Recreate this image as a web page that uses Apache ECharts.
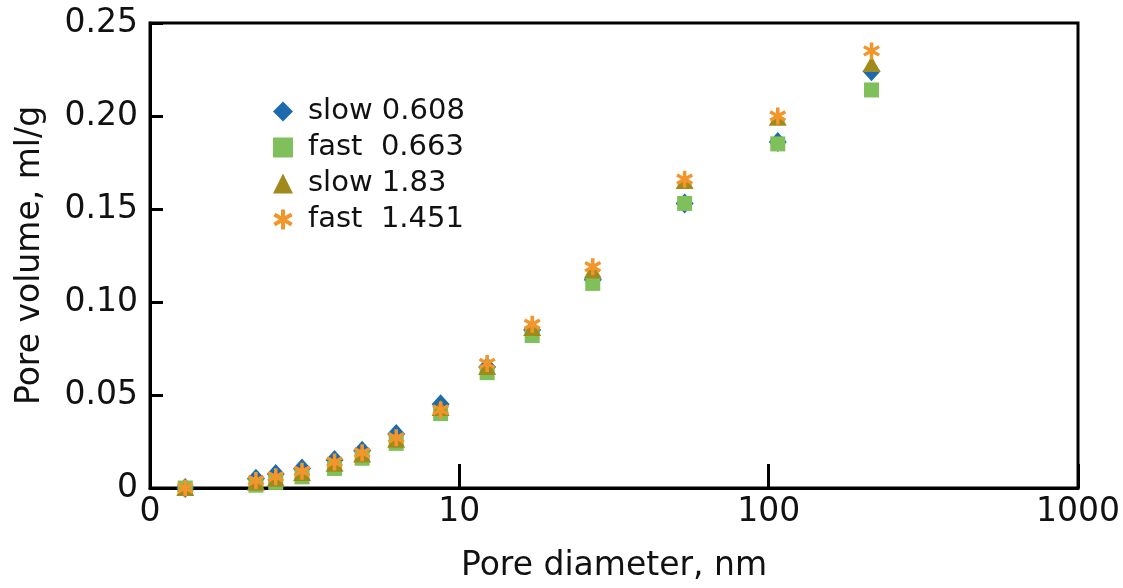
<!DOCTYPE html>
<html>
<head>
<meta charset="utf-8">
<script src="https://cdn.jsdelivr.net/npm/echarts@6/dist/echarts.min.js"></script>
<style>
html,body{margin:0;padding:0;background:#fff;}
#chart{width:1123px;height:588px;}
</style>
</head>
<body>
<div id="chart"></div>
<script>
// Pore diameter, nm (x values)
const diameters = [1.3, 2.2, 2.55, 3.1, 3.95, 4.85, 6.25, 8.7, 12.3, 17.2, 27, 53.5, 107, 215];
// Pore volume, ml/g
const slow0608 = [0, 0.005, 0.0075, 0.0105, 0.015, 0.020, 0.029, 0.045, 0.065, 0.085, 0.112, 0.153, 0.186, 0.224];
const fast0663 = [0, 0.0015, 0.003, 0.006, 0.0105, 0.016, 0.024, 0.040, 0.062, 0.082, 0.110, 0.153, 0.185, 0.214];
const slow183  = [0, 0.003, 0.005, 0.008, 0.013, 0.018, 0.026, 0.043, 0.065, 0.086, 0.117, 0.165, 0.199, 0.228];
const fast1451 = [0, 0.004, 0.006, 0.009, 0.014, 0.019, 0.027, 0.042, 0.067, 0.088, 0.119, 0.166, 0.200, 0.235];
const seriesNames = ['slow 0.608', 'fast  0.663', 'slow 1.83', 'fast  1.451'];
const yTicks = [0, 0.05, 0.10, 0.15, 0.20, 0.25];
const xTickLabels = {1: '0', 10: '10', 100: '100', 1000: '1000'};

const starPath = 'path://M8 0L12 0L12 20L8 20Z M17.66 3.268L19.66 6.732L2.34 16.732L0.34 13.268Z M19.66 13.268L17.66 16.732L0.34 6.732L2.34 3.268Z';

function pairs(ys){ return diameters.map((d,i)=>[d, ys[i]]); }

const chart = echarts.init(document.getElementById('chart'));
const font = 'DejaVu Sans';
chart.setOption({
  backgroundColor: '#fff',
  animation: false,
  grid: {left:150, right:43, top:23, bottom:97, show:true, borderColor:'#000', borderWidth:3, backgroundColor:'transparent'},
  legend: {
    orient:'vertical', left:268, top:92, itemGap:7, itemWidth:20, itemHeight:20,
    textStyle:{fontFamily:font, fontSize:29, color:'#111', padding:[0,0,0,10]},
    data: seriesNames.map(n=>({name:n}))
  },
  xAxis: {
    type:'log', logBase:10, min:1, max:1000,
    name:'Pore diameter, nm', nameLocation:'middle', nameGap:62,
    nameTextStyle:{fontFamily:font, fontSize:33, color:'#111'},
    axisLine:{show:true, lineStyle:{color:'#000', width:3}},
    axisTick:{show:true, inside:true, length:24, lineStyle:{color:'#000', width:3}},
    minorTick:{show:false},
    splitLine:{show:false},
    axisLabel:{fontFamily:font, fontSize:33, color:'#111', margin:8,
      formatter: v => xTickLabels[Math.round(v)] !== undefined ? xTickLabels[Math.round(v)] : ''}
  },
  yAxis: {
    type:'value', min:0, max:0.25, interval:0.05,
    name:'Pore volume, ml/g', nameLocation:'middle', nameGap:103,
    nameTextStyle:{fontFamily:font, fontSize:33, color:'#111'},
    axisLine:{show:true, lineStyle:{color:'#000', width:3}},
    axisTick:{show:true, inside:true, length:13, lineStyle:{color:'#000', width:3}},
    splitLine:{show:false},
    axisLabel:{fontFamily:font, fontSize:33, color:'#111', margin:12,
      formatter: v => v === 0 ? '0' : v.toFixed(2)}
  },
  series: [
    {name:seriesNames[0], type:'scatter', symbol:'diamond', symbolSize:[18,20], data:pairs(slow0608),
      itemStyle:{color:'#1d6aad', opacity:1}},
    {name:seriesNames[1], type:'scatter', symbol:'rect', symbolSize:15, data:pairs(fast0663),
      itemStyle:{color:'#80c05a', opacity:1}},
    {name:seriesNames[2], type:'scatter', symbol:'triangle', symbolSize:[18,16], data:pairs(slow183),
      itemStyle:{color:'#a08a1c', opacity:1}},
    {name:seriesNames[3], type:'scatter', symbol:starPath, symbolSize:17, data:pairs(fast1451),
      itemStyle:{color:'#f2952a', opacity:1}}
  ]
});
</script>
</body>
</html>
